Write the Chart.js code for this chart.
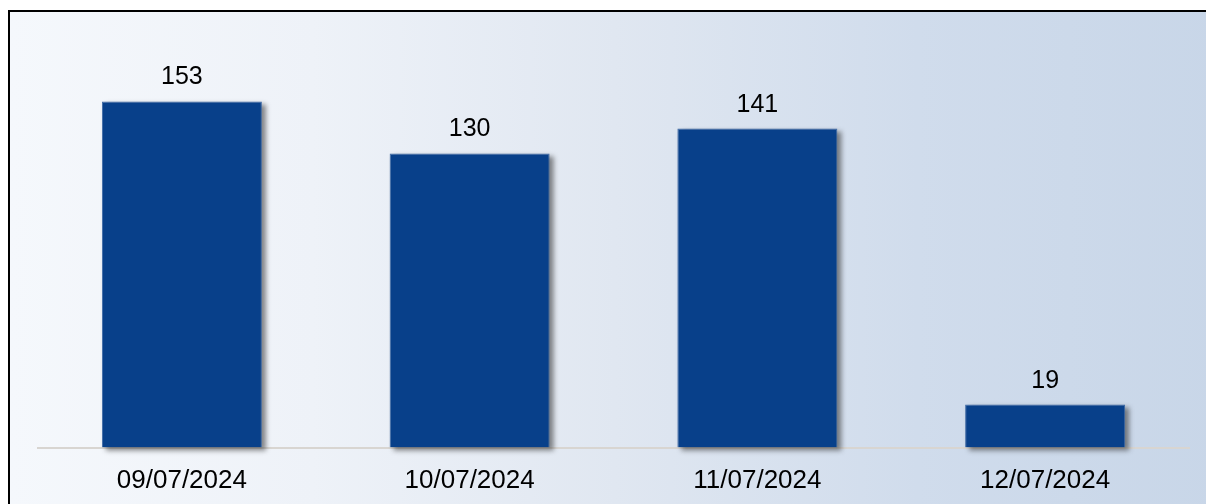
<!DOCTYPE html>
<html>
<head>
<meta charset="utf-8">
<script src="https://cdn.jsdelivr.net/npm/chart.js@4/dist/chart.umd.min.js"></script>
<style>
  html, body { margin: 0; padding: 0; background: #ffffff; overflow: hidden; }
  #stage { position: relative; width: 1206px; height: 504px; overflow: hidden; }
  #panel {
    position: absolute; left: 8px; top: 10px; width: 1210px; height: 500px;
    border-left: 2px solid #000; border-top: 2px solid #000;
    background: linear-gradient(to right, #f5f8fc 0%, #eef2f8 25%, #e0e7f1 50%, #d0dcec 75%, #c8d6e8 100%);
  }
  #chart { position: absolute; left: 0; top: 0; }
</style>
</head>
<body>
<div id="stage">
  <div id="panel"></div>
  <canvas id="chart" width="1206" height="504"></canvas>
</div>
<script>
const categories = ['09/07/2024', '10/07/2024', '11/07/2024', '12/07/2024'];
const counts = [153, 130, 141, 19];

const FONT = "'Liberation Sans', Arial, sans-serif";

// Soft drop shadow behind the bars, then the value printed above each bar
const barShadowAndValues = {
  id: 'barShadowAndValues',
  beforeDatasetsDraw(chart) {
    const ctx = chart.ctx;
    const meta = chart.getDatasetMeta(0);
    ctx.save();
    ctx.filter = 'blur(2.5px)';
    ctx.fillStyle = 'rgba(40,40,40,0.55)';
    meta.data.forEach(bar => {
      const p = bar.getProps(['x', 'y', 'base', 'width'], true);
      const left = p.x - p.width / 2;
      ctx.fillRect(left + 4, p.y + 3, p.width, p.base - p.y);
    });
    ctx.restore();
  },
  afterDatasetsDraw(chart) {
    const ctx = chart.ctx;
    ctx.save();
    ctx.font = '25px ' + FONT;
    ctx.fillStyle = '#000';
    ctx.textAlign = 'center';
    ctx.textBaseline = 'alphabetic';
    const meta = chart.getDatasetMeta(0);
    meta.data.forEach((bar, i) => {
      ctx.fillText(String(chart.data.datasets[0].data[i]), bar.x, bar.y - 17);
    });
    ctx.restore();
  }
};

new Chart(document.getElementById('chart'), {
  type: 'bar',
  data: {
    labels: categories,
    datasets: [{
      data: counts,
      backgroundColor: '#08408a',
      borderColor: '#3c67a3',
      borderWidth: 1,
      categoryPercentage: 1,
      barPercentage: 0.556
    }]
  },
  options: {
    responsive: false,
    animation: false,
    layout: { padding: { left: 38, right: 17, top: 63, bottom: 0 } },
    plugins: { legend: { display: false }, tooltip: { enabled: false } },
    scales: {
      x: {
        grid: { display: false, drawTicks: false },
        border: { display: true, color: '#d8d5d1', width: 2 },
        ticks: { color: '#000', font: { family: FONT, size: 26 }, padding: 18, maxRotation: 0 },
        afterFit(scale) { scale.height = 56.5; }
      },
      y: {
        display: false,
        min: 0,
        max: 170
      }
    }
  },
  plugins: [barShadowAndValues]
});
</script>
</body>
</html>
